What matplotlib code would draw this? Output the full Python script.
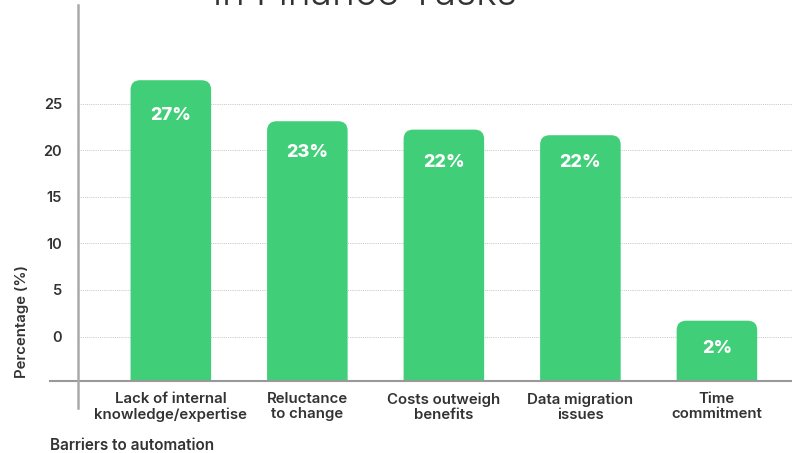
import matplotlib.pyplot as plt
from matplotlib.patches import FancyBboxPatch

# Data
categories = ['Lack of internal\nknowledge/expertise', 'Reluctance\nto change',
              'Costs outweigh\nbenefits', 'Data migration\nissues', 'Time\ncommitment']
heights = [27.5, 23.1, 22.2, 21.6, 1.7]
labels = ['27%', '23%', '22%', '22%', '2%']
yticks = [0, 5, 10, 15, 20, 25]

green = '#41ce78'
text_color = '#333333'
plt.rcParams['font.family'] = ['Inter', 'DejaVu Sans']

fig = plt.figure(figsize=(7.92, 4.53), dpi=100)
W, H = 792, 453
ax = fig.add_axes([78 / W, (H - 381) / H, 1 - 78 / W, (381 - 5) / H])

ymin, ymax = -4.77, 35.57
ax.set_ylim(ymin, ymax)
ax.set_xlim(-0.68, 4.55)

x = range(len(categories))
bars = ax.bar(x, [h - ymin for h in heights], bottom=ymin, width=0.59, color=green)

# rounded tops
rx = 0.07
for b in bars:
    b.set_visible(False)
    p = FancyBboxPatch((b.get_x(), ymin - 3), b.get_width(), b.get_height() + 3,
                       boxstyle='round,pad=0,rounding_size=%f' % rx,
                       mutation_aspect=14.6, facecolor=green, edgecolor='none',
                       zorder=3)
    ax.add_patch(p)

for i, lab in enumerate(labels):
    ax.text(i, float(lab[:-1]) - 3.3, lab, ha='center', va='center', color='white',
            fontsize=13, fontweight='heavy', zorder=4)

# grid + ticks
ax.set_yticks(yticks)
ax.set_yticklabels([str(t) for t in yticks], fontsize=10.5, fontweight=600, color=text_color)
ax.tick_params(axis='y', length=0, pad=11.5)
ax.set_xticks(list(x))
ax.set_xticklabels(categories, fontsize=10.8, fontweight=600, color=text_color, linespacing=1.1)
ax.tick_params(axis='x', length=0, pad=8)
ax.grid(axis='y', color='#c4c4c4', linestyle=(0, (1, 1.2)), linewidth=0.7, zorder=0)
ax.set_axisbelow(True)
for s in ax.spines.values():
    s.set_visible(False)

# axis lines
ax.plot([(50 - 78) / (W - 78), 1], [0, 0], transform=ax.transAxes, color='#999999',
        linewidth=1.5, clip_on=False, zorder=5)
ax.plot([0, 0], [(381 - 408) / (381 - 5), 1], transform=ax.transAxes, color='#aaaaaa',
        linewidth=1.8, clip_on=False, zorder=5)

fig.text(22 / W, 1 - 321 / H, 'Percentage (%)', rotation=90, ha='center', va='center',
         fontsize=10.8, fontweight=600, color=text_color)
fig.text(50 / W, 1 - 446 / H, 'Barriers to automation', ha='left', va='center',
         fontsize=11, fontweight=600, color=text_color)
fig.text(365 / W, 1 - 5 / H, 'in Finance Tasks', ha='center', va='baseline',
         fontsize=28, fontweight=300, color='#333333')

fig.savefig('out.png', dpi=100)
